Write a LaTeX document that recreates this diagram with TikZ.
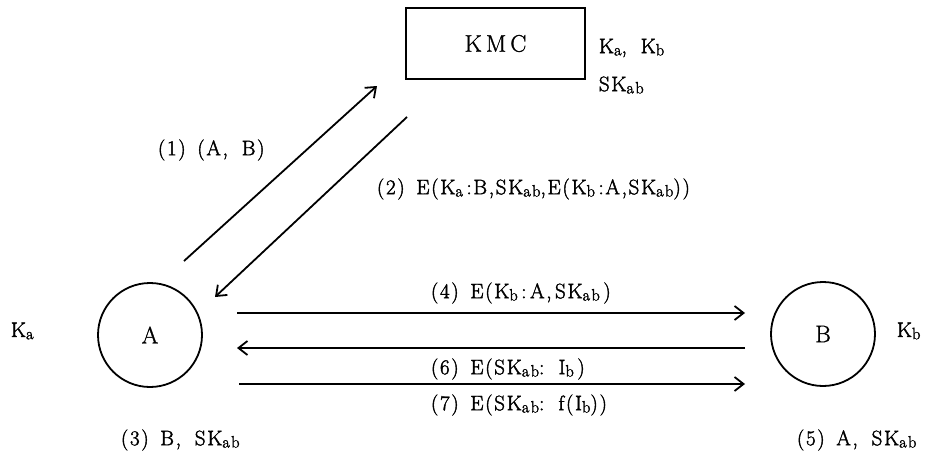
\documentclass[tikz,border=0pt]{standalone}
\usepackage{fontspec}
\setmainfont{Latin Modern Roman}[FakeBold=1.2]
\newfontfamily\labfont{Latin Modern Roman}[FakeBold=1.8, LetterSpace=8]
\newcommand{\sbs}[1]{\raisebox{-0.25ex}{\fontsize{16.5}{16.5}\selectfont #1}}
\usetikzlibrary{arrows.meta}
\begin{document}
\begin{tikzpicture}[x=1pt,y=-1pt,
  line width=1.8pt,
  arr/.style={-{Straight Barb[length=9pt,width=14pt,line width=1.8pt]}},
  lbl/.style={font=\labfont\fontsize{21}{23}\selectfont, inner sep=0pt},
  big/.style={font=\fontsize{24}{26}\selectfont}]
\useasboundingbox (0,0) rectangle (942,455);
% nodes
\node[draw, minimum width=179pt, minimum height=71pt, inner sep=0pt, big] (kmc) at (495.5,43.5) {K\,M\,C};
\node[draw, circle, minimum size=104pt, inner sep=0pt, big] (A) at (150,335) {A};
\node[draw, circle, minimum size=104pt, inner sep=0pt, big] (B) at (823,334) {B};
% texts
\node[lbl, anchor=west] (kk) at (598,48) {K\sbs{a},\; K\sbs{b}};
\node[lbl, anchor=west] (sk) at (598,85) {SK\sbs{ab}};
\node[lbl, anchor=west] (ka) at (10,331) {K\sbs{a}};
\node[lbl, anchor=west] (kb) at (896,331) {K\sbs{b}};
\node[lbl, anchor=west] (l1) at (157,150) {(1)\, (A,\; B)};
\node[lbl, anchor=west] (l2) at (376,189) {(2)\, E(K\sbs{a}\,:B,SK\sbs{ab},E(K\sbs{b}\,:A,SK\sbs{ab}))};
\node[lbl, anchor=west] (l3) at (120,440) {(3)\, B,\; SK\sbs{ab}};
\node[lbl, anchor=west] (l5) at (796,440) {(5)\, A,\; SK\sbs{ab}};
\node[lbl, anchor=west] (l4) at (430,293) {(4)\, E(K\sbs{b}\,:\,A,\,SK\sbs{ab}\,)};
\node[lbl, anchor=west] (l6) at (430,369) {(6)\, E(SK\sbs{ab}:\, I\sbs{b}\,)};
\node[lbl, anchor=west] (l7) at (430,405) {(7)\, E(SK\sbs{ab}:\, f(I\sbs{b}))};
% connector ends
\coordinate (a1) at (184,261);
\coordinate (k1) at (377,86);
\coordinate (k2) at (407,117);
\coordinate (a2) at (215,297);
\coordinate (a4) at (237,313);
\coordinate (b4) at (745,313);
\coordinate (b6) at (745,348);
\coordinate (a6) at (237,348);
\coordinate (a7) at (239,384);
\coordinate (b7) at (745,384);
% connectors
\draw[arr] (a1) -- (k1);
\draw[arr] (k2) -- (a2);
\draw[arr] (a4) -- (b4);
\draw[arr] (b6) -- (a6);
\draw[arr] (a7) -- (b7);
\end{tikzpicture}
\end{document}
